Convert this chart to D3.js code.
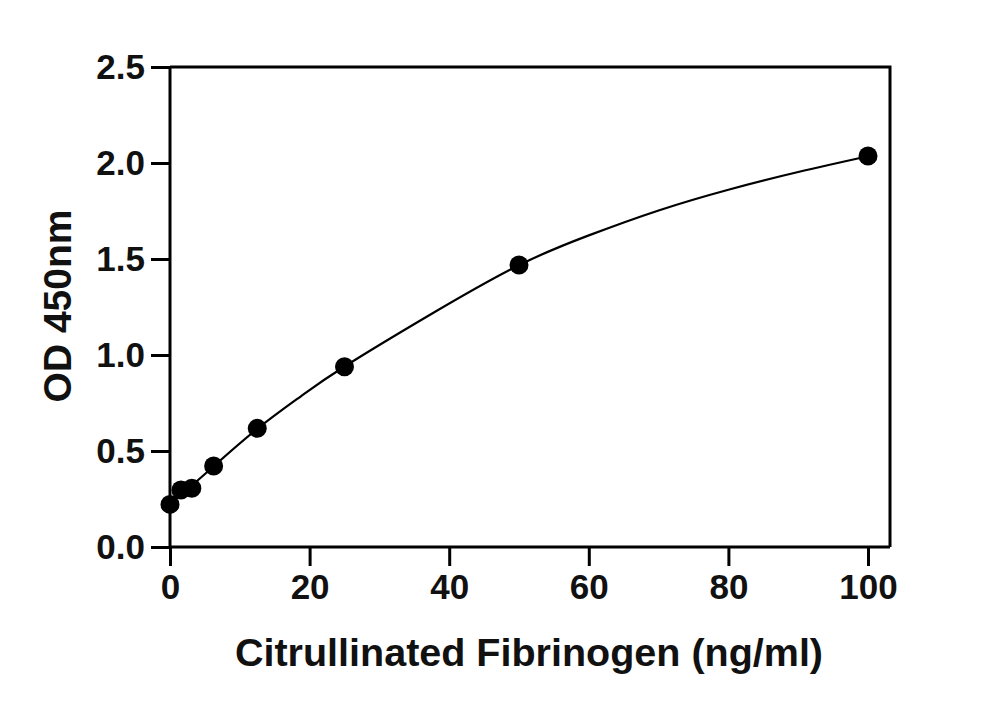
<!DOCTYPE html>
<html>
<head>
<meta charset="utf-8">
<script src="https://cdn.jsdelivr.net/npm/d3@7"></script>
<style>
  body { margin: 0; background: #fff; }
  svg { font-family: "Liberation Sans", Arial, Helvetica, sans-serif; font-weight: bold; }
</style>
</head>
<body>
<svg width="1000" height="708"></svg>
<script>
// standard points
const conc = [0, 1.5625, 3.125, 6.25, 12.5, 25, 50, 100];
const od = [0.222, 0.297, 0.306, 0.422, 0.618, 0.939, 1.469, 2.036];

// fitted curve
const fitX = [0, 3.125, 6.25, 12.5, 18.75, 25, 37.5, 50, 60, 70, 80, 90, 100];
const fitY = [0.225, 0.32, 0.42, 0.615, 0.785, 0.94, 1.215, 1.468, 1.623, 1.753, 1.861, 1.953, 2.035];

const xTicks = [0, 20, 40, 60, 80, 100];
const yTicks = [0, 0.5, 1.0, 1.5, 2.0, 2.5];

const svg = d3.select("svg");
const plotLeft = 170, plotRight = 890, plotTop = 67, plotBottom = 547;

const x = d3.scaleLinear().domain([0, 100]).range([plotLeft, 868]);
const y = d3.scaleLinear().domain([0, 2.5]).range([plotBottom, plotTop]);

// frame (top + right)
svg.append("path")
  .attr("d", `M${plotLeft},${plotTop}H${plotRight}V${plotBottom}`)
  .attr("fill", "none")
  .attr("stroke", "#000")
  .attr("stroke-width", 3);

// x axis
const xAxis = svg.append("g")
  .attr("transform", `translate(0,${plotBottom})`)
  .call(d3.axisBottom(x).tickValues(xTicks).tickSize(19).tickPadding(8).tickFormat(d3.format("d")));
xAxis.select(".domain").remove();
xAxis.append("line")
  .attr("x1", plotLeft).attr("x2", plotRight)
  .attr("stroke", "#000").attr("stroke-width", 3);
xAxis.selectAll(".tick line").attr("stroke-width", 3);
xAxis.selectAll(".tick text")
  .attr("font-size", 35)
  .attr("font-family", "Liberation Sans, Arial, sans-serif")
  .attr("font-weight", "bold")
  .attr("fill", "#111");

// y axis
const yAxis = svg.append("g")
  .attr("transform", `translate(${plotLeft},0)`)
  .call(d3.axisLeft(y).tickValues(yTicks).tickSize(19).tickPadding(6).tickFormat(d3.format(".1f")));
yAxis.select(".domain").remove();
yAxis.append("line")
  .attr("y1", plotTop).attr("y2", plotBottom)
  .attr("stroke", "#000").attr("stroke-width", 3);
yAxis.selectAll(".tick line").attr("stroke-width", 3);
yAxis.selectAll(".tick text")
  .attr("font-size", 35)
  .attr("font-family", "Liberation Sans, Arial, sans-serif")
  .attr("font-weight", "bold")
  .attr("fill", "#111");

// fitted curve
const line = d3.line()
  .x((d, i) => x(fitX[i]))
  .y(d => y(d))
  .curve(d3.curveNatural);

svg.append("path")
  .datum(fitY)
  .attr("d", line)
  .attr("fill", "none")
  .attr("stroke", "#000")
  .attr("stroke-width", 2.2);

// points
svg.append("g")
  .selectAll("circle")
  .data(conc)
  .enter()
  .append("circle")
  .attr("cx", d => x(d))
  .attr("cy", (d, i) => y(od[i]))
  .attr("r", 9.5)
  .attr("fill", "#000");

// axis titles
svg.append("text")
  .attr("x", 529)
  .attr("y", 666)
  .attr("text-anchor", "middle")
  .attr("font-size", 39.5)
  .attr("fill", "#111")
  .text("Citrullinated Fibrinogen (ng/ml)");

svg.append("text")
  .attr("transform", "translate(71,306) rotate(-90)")
  .attr("text-anchor", "middle")
  .attr("font-size", 39)
  .attr("fill", "#111")
  .text("OD 450nm");
</script>
</body>
</html>
